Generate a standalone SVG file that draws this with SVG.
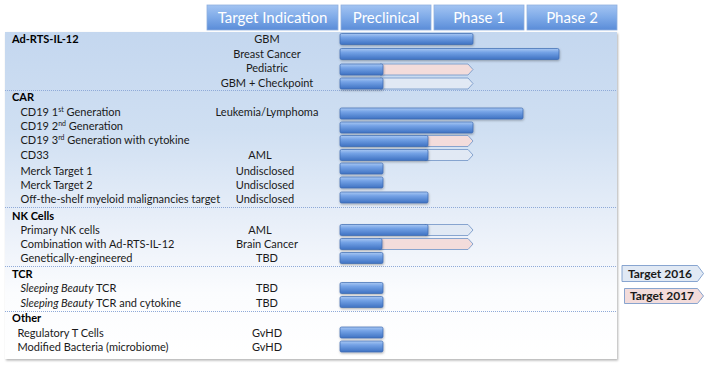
<svg xmlns="http://www.w3.org/2000/svg" width="710" height="392" viewBox="0 0 710 392">
<defs>
<linearGradient id="panelG" x1="0" y1="0" x2="0" y2="1">
<stop offset="0" stop-color="#c4d7ef"/>
<stop offset="0.3" stop-color="#cfdff2"/>
<stop offset="0.6" stop-color="#eaf0f9"/>
<stop offset="0.8" stop-color="#fbfcfe"/>
<stop offset="1" stop-color="#ffffff"/>
</linearGradient>
<linearGradient id="headG" x1="0" y1="0" x2="0" y2="1">
<stop offset="0" stop-color="#a3c4f2"/>
<stop offset="0.5" stop-color="#7eaae8"/>
<stop offset="1" stop-color="#5a8cd8"/>
</linearGradient>
<linearGradient id="barG" x1="0" y1="0" x2="0" y2="1">
<stop offset="0" stop-color="#a9c8f3"/>
<stop offset="0.35" stop-color="#74a2e6"/>
<stop offset="1" stop-color="#3f72c2"/>
</linearGradient>
<filter id="sh" x="-5%" y="-30%" width="110%" height="170%">
<feDropShadow dx="0.5" dy="1.2" stdDeviation="0.8" flood-color="#000" flood-opacity="0.3"/>
</filter>
<filter id="psh" x="-2%" y="-2%" width="104%" height="104%">
<feDropShadow dx="1" dy="1.5" stdDeviation="1" flood-color="#000" flood-opacity="0.3"/>
</filter>
</defs>
<style>
.head{fill:url(#headG);stroke:#8fb0df;stroke-width:0.8}
.ht{font-family:Lato,"Liberation Sans",sans-serif;font-size:15px;fill:#ffffff;text-anchor:middle}
.t{font-family:Lato,"Liberation Sans",sans-serif;font-size:11px;fill:#1a1a1a}
.tc{font-family:Lato,"Liberation Sans",sans-serif;font-size:11px;fill:#1a1a1a;text-anchor:middle}
.b{font-family:Lato,"Liberation Sans",sans-serif;font-size:11px;fill:#000;font-weight:bold}
.bar{fill:url(#barG);stroke:#3a69b0;stroke-width:0.7;filter:url(#sh)}
.pk{fill:#f3dcdb;stroke:#7c9ccb;stroke-width:0.9}
.lt{fill:#e1e9f4;stroke:#7c9ccb;stroke-width:0.9}
.sep{stroke:#8faad8;stroke-width:1;stroke-dasharray:1 1;fill:none}
.lg{font-family:Lato,"Liberation Sans",sans-serif;font-size:12px;fill:#1a1a1a;font-weight:bold;text-anchor:middle}
sup{font-size:7px}
</style>

<g id="panel">
<rect x="5" y="32" width="612" height="327" fill="url(#panelG)" filter="url(#psh)"/>
</g>

<g id="header">
<rect class="head" x="207" y="5" width="131" height="25"/>
<text class="ht" x="272.5" y="23">Target Indication</text>
<rect class="head" x="341" y="5" width="90" height="25"/>
<text class="ht" x="386" y="23">Preclinical</text>
<rect class="head" x="434" y="5" width="90" height="25"/>
<text class="ht" x="479" y="23">Phase 1</text>
<rect class="head" x="527" y="5" width="90" height="25"/>
<text class="ht" x="572" y="23">Phase 2</text>
</g>

<g id="separators">
<line class="sep" x1="5" y1="90.5" x2="617" y2="90.5"/>
<line class="sep" x1="5" y1="207.5" x2="617" y2="207.5"/>
<line class="sep" x1="5" y1="266.5" x2="617" y2="266.5"/>
<line class="sep" x1="5" y1="311.5" x2="617" y2="311.5"/>
</g>

<g id="labels">
<text class="b" x="12" y="43">Ad-RTS-IL-12</text>
<text class="tc" x="267" y="43">GBM</text>
<text class="tc" x="267" y="57.5">Breast Cancer</text>
<text class="tc" x="267" y="72">Pediatric</text>
<text class="tc" x="267" y="86.5">GBM + Checkpoint</text>

<text class="b" x="12" y="101">CAR</text>
<text class="t" x="20.5" y="115.5">CD19 1<tspan font-size="7" dy="-4">st</tspan><tspan dy="4"> Generation</tspan></text>
<text class="tc" x="267" y="115.5">Leukemia/Lymphoma</text>
<text class="t" x="20.5" y="130">CD19 2<tspan font-size="7" dy="-4">nd</tspan><tspan dy="4"> Generation</tspan></text>
<text class="t" x="20.5" y="144">CD19 3<tspan font-size="7" dy="-4">rd</tspan><tspan dy="4"> Generation  with cytokine</tspan></text>
<text class="t" x="20.5" y="159">CD33</text>
<text class="tc" x="260" y="159">AML</text>
<text class="t" x="20.5" y="174.5">Merck Target 1</text>
<text class="tc" x="265" y="174.5">Undisclosed</text>
<text class="t" x="20.5" y="188.5">Merck Target 2</text>
<text class="tc" x="265" y="188.5">Undisclosed</text>
<text class="t" x="20.5" y="203">Off-the-shelf myeloid malignancies target</text>
<text class="tc" x="265" y="203">Undisclosed</text>

<text class="b" x="12" y="219.5">NK Cells</text>
<text class="t" x="20.5" y="234">Primary NK cells</text>
<text class="tc" x="260" y="234">AML</text>
<text class="t" x="20.5" y="248">Combination with Ad-RTS-IL-12</text>
<text class="tc" x="267" y="248">Brain Cancer</text>
<text class="t" x="20.5" y="262">Genetically-engineered</text>
<text class="tc" x="267" y="262">TBD</text>

<text class="b" x="12" y="278">TCR</text>
<text class="t" x="20.5" y="292"><tspan font-style="italic">Sleeping Beauty</tspan> TCR</text>
<text class="tc" x="267" y="292">TBD</text>
<text class="t" x="20.5" y="306.5"><tspan font-style="italic">Sleeping Beauty</tspan> TCR and cytokine</text>
<text class="tc" x="267" y="306.5">TBD</text>

<text class="b" x="12" y="322">Other</text>
<text class="t" x="17.5" y="336.5">Regulatory T Cells</text>
<text class="tc" x="267" y="336.5">GvHD</text>
<text class="t" x="17.5" y="351">Modified Bacteria (microbiome)</text>
<text class="tc" x="267" y="351">GvHD</text>
</g>

<g id="bars">
<rect class="bar" x="340" y="33.5" width="133" height="11" rx="1.5"/>
<rect class="bar" x="340" y="48.5" width="219" height="11" rx="1.5"/>
<polygon class="pk" points="380,64 468,64 473,69.5 468,75 380,75"/>
<rect class="bar" x="340" y="64" width="43" height="11" rx="1.5"/>
<polygon class="lt" points="380,78 468,78 473,83.5 468,89 380,89"/>
<rect class="bar" x="340" y="78" width="43" height="11" rx="1.5"/>

<rect class="bar" x="340" y="108" width="183" height="11" rx="1.5"/>
<rect class="bar" x="340" y="122" width="133" height="11" rx="1.5"/>
<polygon class="pk" points="425,135.5 468,135.5 473,141 468,146.5 425,146.5"/>
<rect class="bar" x="340" y="135.5" width="88" height="11" rx="1.5"/>
<polygon class="lt" points="425,149.5 468,149.5 473,155 468,160.5 425,160.5"/>
<rect class="bar" x="340" y="149.5" width="88" height="11" rx="1.5"/>
<rect class="bar" x="340" y="163" width="43" height="11" rx="1.5"/>
<rect class="bar" x="340" y="177" width="43" height="11" rx="1.5"/>
<rect class="bar" x="340" y="192" width="88" height="11" rx="1.5"/>

<polygon class="lt" points="425,224.5 468,224.5 473,230 468,235.5 425,235.5"/>
<rect class="bar" x="340" y="224.5" width="88" height="11" rx="1.5"/>
<polygon class="pk" points="379,238.5 468,238.5 473,244 468,249.5 379,249.5"/>
<rect class="bar" x="340" y="238.5" width="42" height="11" rx="1.5"/>
<rect class="bar" x="340" y="252.5" width="43" height="11" rx="1.5"/>

<rect class="bar" x="340" y="282.5" width="43" height="11" rx="1.5"/>
<rect class="bar" x="340" y="296.5" width="43" height="11" rx="1.5"/>

<rect class="bar" x="340" y="327" width="43" height="11" rx="1.5"/>
<rect class="bar" x="340" y="341" width="43" height="11" rx="1.5"/>
</g>

<g id="legend-2016">
<polygon class="lt" points="622,265.5 697.5,265.5 703.5,273.5 697.5,281.5 622,281.5"/>
<text class="lg" x="660" y="277.5">Target 2016</text>
</g>
<g id="legend-2017">
<polygon class="pk" points="624.5,288.5 697.5,288.5 703.5,296 697.5,303.5 624.5,303.5"/>
<text class="lg" x="662" y="300">Target 2017</text>
</g>
</svg>
